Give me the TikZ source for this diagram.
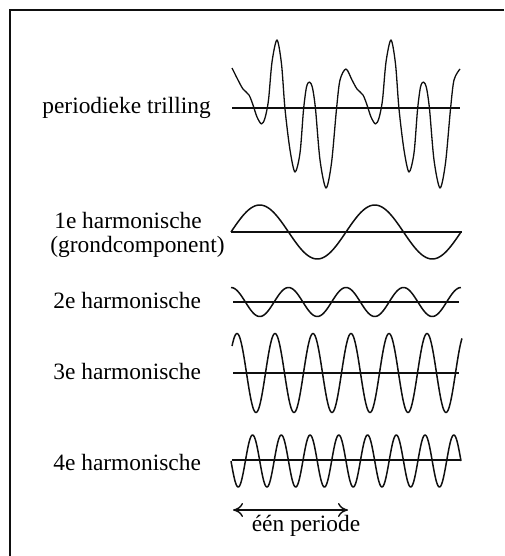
\documentclass[tikz,border=0pt]{standalone}
\usepackage{fontspec}
\setmainfont{Liberation Serif}
\usetikzlibrary{arrows.meta, positioning, calc}
\definecolor{InkBlack}{RGB}{15,15,15}

\begin{document}
\begin{tikzpicture}[x=0.5pt, y=-0.5pt]

\tikzset{
lbl/.style={
anchor=base west,
inner sep=0pt,
font=\fontsize{11.7}{10.5}\selectfont,
align=left
},
wave/.style={
draw=InkBlack,
line width=0.75pt,
line join=round
},
axisline/.style={
draw=InkBlack,
line width=0.55pt
}
}

\useasboundingbox (0,0) rectangle (504,556);
\draw[line width=1pt, InkBlack] (10,556) -- (10,10) -- (504,10);

% labels
\node[lbl] (trill) at (42,113) {periodieke trilling};
\node[lbl] (harm1) at (50,252) {\,1e harmonische\\[1.2pt](grondcomponent)};
\node[lbl] (harm2) at (53,308) {2e harmonische};
\node[lbl] (harm3) at (53,379) {3e harmonische};
\node[lbl] (harm4) at (53,470) {4e harmonische};

% periodieke trilling
\draw[axisline] (232,108) -- (460,108);
\draw[wave, line width=0.65pt] plot[smooth, tension=0.5] coordinates {
(232,68) (238,80) (243,89) (249,95) (253,105) (257,117) (261.5,124)
(265,118) (268.5,100) (272,62) (277,40) (281.5,64) (285,109) (290,150)
(295,172) (300,153) (303.5,110) (306.5,87) (309.5,82) (312.5,88)
(315.5,109) (320,160) (326,188) (331.5,163) (336.5,109) (340,80) (346,69)
(352,80) (357,89) (363,95) (367,105) (371,117) (375.5,124)
(379,118) (382.5,100) (386,62) (391,40) (395.5,64) (399,109) (404,150)
(409,172) (414,153) (417.5,110) (420.5,87) (423.5,82) (426.5,88)
(429.5,109) (434,160) (440,188) (445.5,163) (450.5,109) (454,80) (460,69)};

% harmonischen
\draw[axisline] (231,232) -- (462,232);
\draw[wave] plot[domain=0:2, samples=120, variable=\t]
({231+115*\t}, {232-27*sin(360*\t)});

\draw[axisline] (233,302) -- (459,302);
\draw[wave] plot[domain=0:4, samples=200, variable=\t]
({231+57.5*\t}, {302-14.5*cos(360*\t)});

\draw[axisline] (233,373) -- (459,373);
\draw[wave] plot[domain=-0.13:5.92, samples=300, variable=\t]
({237+38*\t}, {373-39.5*cos(360*\t)});

\draw[axisline] (232,460) -- (460,460);
\draw[wave] plot[domain=0:8, samples=400, variable=\t]
({231+28.75*\t}, {461+26*sin(360*\t)});

% een periode
\coordinate (pstart) at (233,510);
\coordinate (pend) at (348,510);
\draw[{To[length=5pt,width=7pt]}-{To[length=5pt,width=7pt]}, line width=0.7pt, InkBlack]
(pstart) -- (pend);
\node[lbl, anchor=base] (per) at (306,531) {één periode};

\end{tikzpicture}
\end{document}
